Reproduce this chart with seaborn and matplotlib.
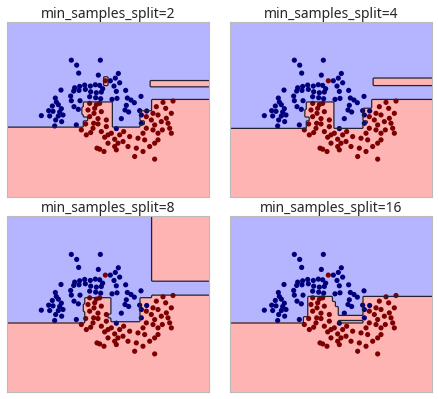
import numpy as np
import pandas as pd
import matplotlib
matplotlib.use("Agg")
import matplotlib.pyplot as plt
import seaborn as sns

# two-moons points (plot units, no ticks shown)
blue_x = [215, 231, 302, 237, 296, 356, 347, 332, 360, 343, 255, 272, 287, 300, 309,
          184, 225, 240, 222, 238, 257, 273, 290, 305, 350, 378, 167, 213, 215, 241,
          270, 288, 303, 337, 352, 383, 394, 424, 170, 176, 223, 236, 404, 380, 376,
          387, 420, 441, 147, 160, 180, 190, 125, 150, 176, 168, 186, 165, 230, 350,
          425, 425, 365, 158, 185]
blue_y = [420, 405, 420, 381, 375, 380, 366, 358, 352, 342, 345, 342, 346, 344, 334,
          330, 337, 341, 327, 329, 332, 325, 322, 324, 326, 329, 306, 312, 298, 298,
          310, 307, 304, 302, 305, 306, 300, 311, 294, 286, 280, 272, 292, 284, 270,
          264, 268, 267, 268, 266, 264, 255, 253, 252, 252, 240, 235, 222, 225, 214,
          230, 255, 244, 282, 274]

red_x = [317, 270, 290, 265, 283, 270, 295, 295, 280, 245, 260, 273, 320, 325, 315,
         300, 313, 325, 335, 360, 370, 390, 345, 355, 385, 415, 435, 465, 475, 460,
         475, 515, 510, 465, 440, 405, 465, 350, 475, 500, 515, 490, 520, 498, 485,
         440, 455, 488, 430, 450, 292, 258, 372, 345, 305, 285, 305, 300, 470, 460,
         505, 282, 320, 410, 430]
red_y = [358, 290, 286, 270, 260, 250, 244, 228, 215, 210, 195, 202, 220, 195, 188,
         152, 145, 170, 200, 195, 175, 190, 160, 170, 160, 185, 180, 170, 180, 210,
         200, 200, 215, 225, 215, 130, 122, 150, 255, 245, 260, 293, 297, 275, 235,
         250, 240, 210, 200, 160, 155, 228, 205, 182, 205, 275, 265, 290, 280, 260,
         230, 230, 240, 155, 145]

split_values = [2, 4, 8, 16]

# tree leaves voting for the red class (x0, x1, y0, y1), and blue pockets inside them
red_leaves = {
    2: [(22, 628, 8, 217), (253, 336, 215, 295), (420, 628, 215, 268),
        (455, 628, 266, 302), (452, 628, 338, 359), (311, 323, 344, 370),
        (247, 256, 255, 280)],
    4: [(22, 628, 8, 215), (252, 332, 213, 295), (419, 628, 213, 275),
        (449, 628, 273, 300), (453, 628, 345, 365), (246, 255, 250, 272)],
    8: [(22, 628, 8, 213), (255, 335, 211, 291), (335, 422, 8, 218),
        (422, 628, 211, 291), (455, 628, 289, 298), (455, 628, 340, 535),
        (249, 258, 248, 270)],
    16: [(22, 628, 8, 216), (242, 257, 214, 233), (257, 328, 214, 293),
         (328, 338, 214, 280), (338, 346, 214, 265), (346, 419, 224, 238),
         (419, 628, 214, 296)],
}
blue_leaves = {
    2: [(400, 432, 226, 238), (253, 262, 238, 250)],
    4: [(402, 432, 228, 238), (252, 261, 236, 248)],
    8: [(400, 425, 228, 235), (326, 345, 228, 240)],
    16: [],
}

x_range = (22, 628)
y_range = (8, 535)

sns.set_style("white")
plt.rcParams["font.family"] = ["Noto Sans", "DejaVu Sans"]

fig = plt.figure(figsize=(4.38, 3.99), dpi=100)
positions = [
    (7 / 438, 202 / 399, 202 / 438, 175 / 399),
    (230 / 438, 202 / 399, 202 / 438, 175 / 399),
    (7 / 438, 7 / 399, 202 / 438, 176 / 399),
    (230 / 438, 7 / 399, 202 / 438, 176 / 399),
]

points = pd.DataFrame({
    "x": blue_x + red_x,
    "y": blue_y + red_y,
    "label": [0] * len(blue_x) + [1] * len(red_x),
})

xx, yy = np.meshgrid(np.linspace(*x_range, 140), np.linspace(*y_range, 140))

for split, pos in zip(split_values, positions):
    ax = fig.add_axes(pos)
    zz = np.zeros_like(xx)
    for x0, x1, y0, y1 in red_leaves[split]:
        zz[(xx >= x0) & (xx <= x1) & (yy >= y0) & (yy <= y1)] = 1
    for x0, x1, y0, y1 in blue_leaves[split]:
        zz[(xx >= x0) & (xx <= x1) & (yy >= y0) & (yy <= y1)] = 0
    ax.contourf(xx, yy, zz, levels=[-0.5, 0.5, 1.5], colors=["#b4b4ff", "#ffb4b4"])
    ax.contour(xx, yy, zz, levels=[0.5], colors="#222233", linewidths=0.9)
    sns.scatterplot(data=points, x="x", y="y", hue="label",
                    palette={0: "#00007c", 1: "#7c0000"}, s=14, linewidth=0,
                    legend=False, ax=ax)
    ax.set_xlim(*x_range)
    ax.set_ylim(*y_range)
    ax.set_xticks([])
    ax.set_yticks([])
    ax.set_xlabel("")
    ax.set_ylabel("")
    for sp in ax.spines.values():
        sp.set_color("#bbbbbb")
        sp.set_linewidth(0.8)
    ax.set_title(f"min_samples_split={split}", fontsize=10, pad=3)

fig.savefig("out.png", dpi=100)
